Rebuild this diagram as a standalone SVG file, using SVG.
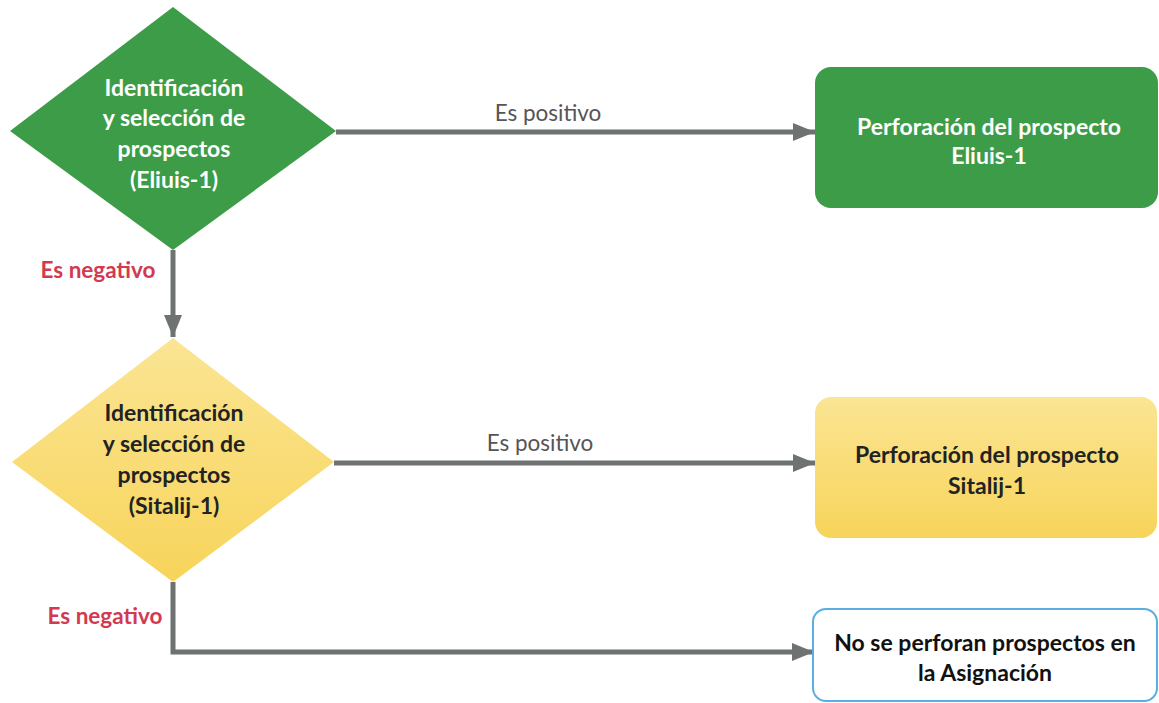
<svg xmlns="http://www.w3.org/2000/svg" width="1159" height="703" viewBox="0 0 1159 703">
<defs>
<linearGradient id="yel" x1="0" y1="0" x2="0" y2="1">
<stop offset="0" stop-color="#fbe594"/>
<stop offset="1" stop-color="#f7d45a"/>
</linearGradient>
<marker id="ah" markerUnits="userSpaceOnUse" markerWidth="24" markerHeight="20" refX="22" refY="10" orient="auto">
<path d="M0,1 L22,10 L0,19 Z" fill="#6f7272"/>
</marker>
<style>
.conn{fill:none;stroke:#6f7272;stroke-width:5}
.t{font-family:Lato,"Liberation Sans",sans-serif;font-weight:bold;font-size:23px;text-anchor:middle}
.w{fill:#ffffff}
.d{fill:#222222}
.pos{font-family:Lato,"Liberation Sans",sans-serif;font-size:22.5px;fill:#555555;text-anchor:middle}
.neg{font-family:Lato,"Liberation Sans",sans-serif;font-weight:bold;font-size:22.5px;fill:#d23a52;text-anchor:middle}
</style>
</defs>
<rect width="1159" height="703" fill="#ffffff"/>
<g id="connectors">
<line class="conn" x1="336" y1="132" x2="815" y2="132" marker-end="url(#ah)"/>
<line class="conn" x1="173" y1="250" x2="173" y2="337" marker-end="url(#ah)"/>
<line class="conn" x1="334" y1="463" x2="815" y2="463" marker-end="url(#ah)"/>
<polyline class="conn" points="173,582 173,652 814,652" marker-end="url(#ah)"/>
<text class="pos" x="548" y="121">Es positivo</text>
<text class="pos" x="540" y="451">Es positivo</text>
<text class="neg" x="98" y="278">Es negativo</text>
<text class="neg" x="105" y="624">Es negativo</text>
</g>
<g id="decision1">
<polygon points="173,7 336,131 173,250 10,131" fill="#3d9c48"/>
<text class="t w" x="174" y="96">Identificación</text>
<text class="t w" x="174" y="126">y selección de</text>
<text class="t w" x="174" y="157">prospectos</text>
<text class="t w" x="174" y="188">(Eliuis-1)</text>
</g>
<g id="box1">
<rect x="815" y="67" width="343" height="141" rx="16" fill="#3d9c48"/>
<text class="t w" x="989" y="135">Perforación del prospecto</text>
<text class="t w" x="989" y="164">Eliuis-1</text>
</g>
<g id="decision2">
<polygon points="173,338 334,462 173,582 12,462" fill="url(#yel)"/>
<text class="t d" x="174" y="421">Identificación</text>
<text class="t d" x="174" y="452">y selección de</text>
<text class="t d" x="174" y="483">prospectos</text>
<text class="t d" x="174" y="514">(Sitalij-1)</text>
</g>
<g id="box2">
<rect x="815" y="397" width="342" height="141" rx="16" fill="url(#yel)"/>
<text class="t d" x="987" y="463">Perforación del prospecto</text>
<text class="t d" x="987" y="494">Sitalij-1</text>
</g>
<g id="box3">
<rect x="813" y="609" width="344" height="92" rx="13" fill="#ffffff" stroke="#5aaee3" stroke-width="2"/>
<text class="t" x="985" y="651" fill="#111111">No se perforan prospectos en</text>
<text class="t" x="985" y="681" fill="#111111">la Asignación</text>
</g>
</svg>
